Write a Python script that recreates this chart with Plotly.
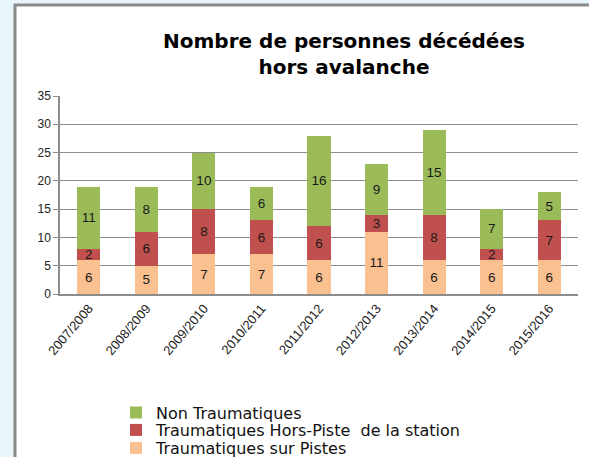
import plotly.graph_objects as go

categories = ["2007/2008", "2008/2009", "2009/2010", "2010/2011", "2011/2012",
              "2012/2013", "2013/2014", "2014/2015", "2015/2016"]
sur_pistes = [6, 5, 7, 7, 6, 11, 6, 6, 6]
hors_piste = [2, 6, 8, 6, 6, 3, 8, 2, 7]
non_trauma = [11, 8, 10, 6, 16, 9, 15, 7, 5]

L, R, T, B = 60, 11, 96, 163
W, H = 589, 457
pw, ph = W - L - R, H - T - B


def px_x(p):
    return (p - L) / pw


def px_y(p):
    return (H - B - p) / ph


series = [
    ("Traumatiques sur Pistes", sur_pistes, "#FAC090", "legend3", 448),
    ("Traumatiques Hors-Piste\u00a0 de la station", hors_piste, "#C0504D", "legend2", 430),
    ("Non Traumatiques", non_trauma, "#9BBB59", "legend", 412.5),
]

fig = go.Figure()
for name, vals, col, lg, _ in series:
    fig.add_trace(go.Bar(
        x=categories, y=vals, name=name, legend=lg,
        marker=dict(color=col, line=dict(width=0)),
        text=[str(v) for v in vals],
        textposition="inside", insidetextanchor="middle",
        textangle=0, constraintext="none",
        textfont=dict(family="Liberation Sans, Arial", size=13.5, color="#1a1a1a"),
        hoverinfo="skip",
    ))

legend_font = dict(family="DejaVu Sans", size=16, color="#111111")
legends = {}
for name, vals, col, lg, yc in series:
    legends[lg] = dict(
        orientation="v", x=px_x(116), xanchor="left",
        y=px_y(yc), yanchor="middle",
        font=legend_font, bgcolor="rgba(0,0,0,0)",
    )

fig.update_layout(
    width=W, height=H,
    margin=dict(l=L, r=R, t=T, b=B, autoexpand=False),
    barmode="stack", bargap=0.6,
    paper_bgcolor="#E6F6FA", plot_bgcolor="white",
    font=dict(family="Liberation Sans, Arial", color="#333333"),
    title=dict(
        text="<b>Nombre de personnes décédées<br>hors avalanche</b>",
        x=0.584, xref="container", xanchor="center",
        y=1 - 48 / H, yref="container", yanchor="top",
        font=dict(family="DejaVu Sans", size=20, color="#000000"),
    ),
    xaxis=dict(
        tickangle=-50, tickfont=dict(size=13, color="#222222"),
        showline=True, linecolor="#8c8c8c", linewidth=1.5,
        showgrid=False, ticks="",
    ),
    yaxis=dict(
        range=[0, 35], dtick=5, tickfont=dict(size=12, color="#222222"),
        showline=True, linecolor="#8c8c8c", linewidth=1.5,
        showgrid=True, gridcolor="#8c8c8c", gridwidth=1,
        ticks="outside", ticklen=5, tickcolor="#8c8c8c",
        zeroline=False,
    ),
    showlegend=True,
    shapes=[dict(
        type="rect", xref="paper", yref="paper", layer="below",
        x0=px_x(15), x1=px_x(800), y0=px_y(5), y1=px_y(700),
        fillcolor="white", line=dict(color="#8a8a8a", width=3),
    )],
    **legends,
)

fig.write_html(
    "out.html",
    config={"displayModeBar": False},
    post_script="document.body.style.margin='0';document.body.style.background='#E6F6FA';document.body.style.overflow='hidden';",
)
